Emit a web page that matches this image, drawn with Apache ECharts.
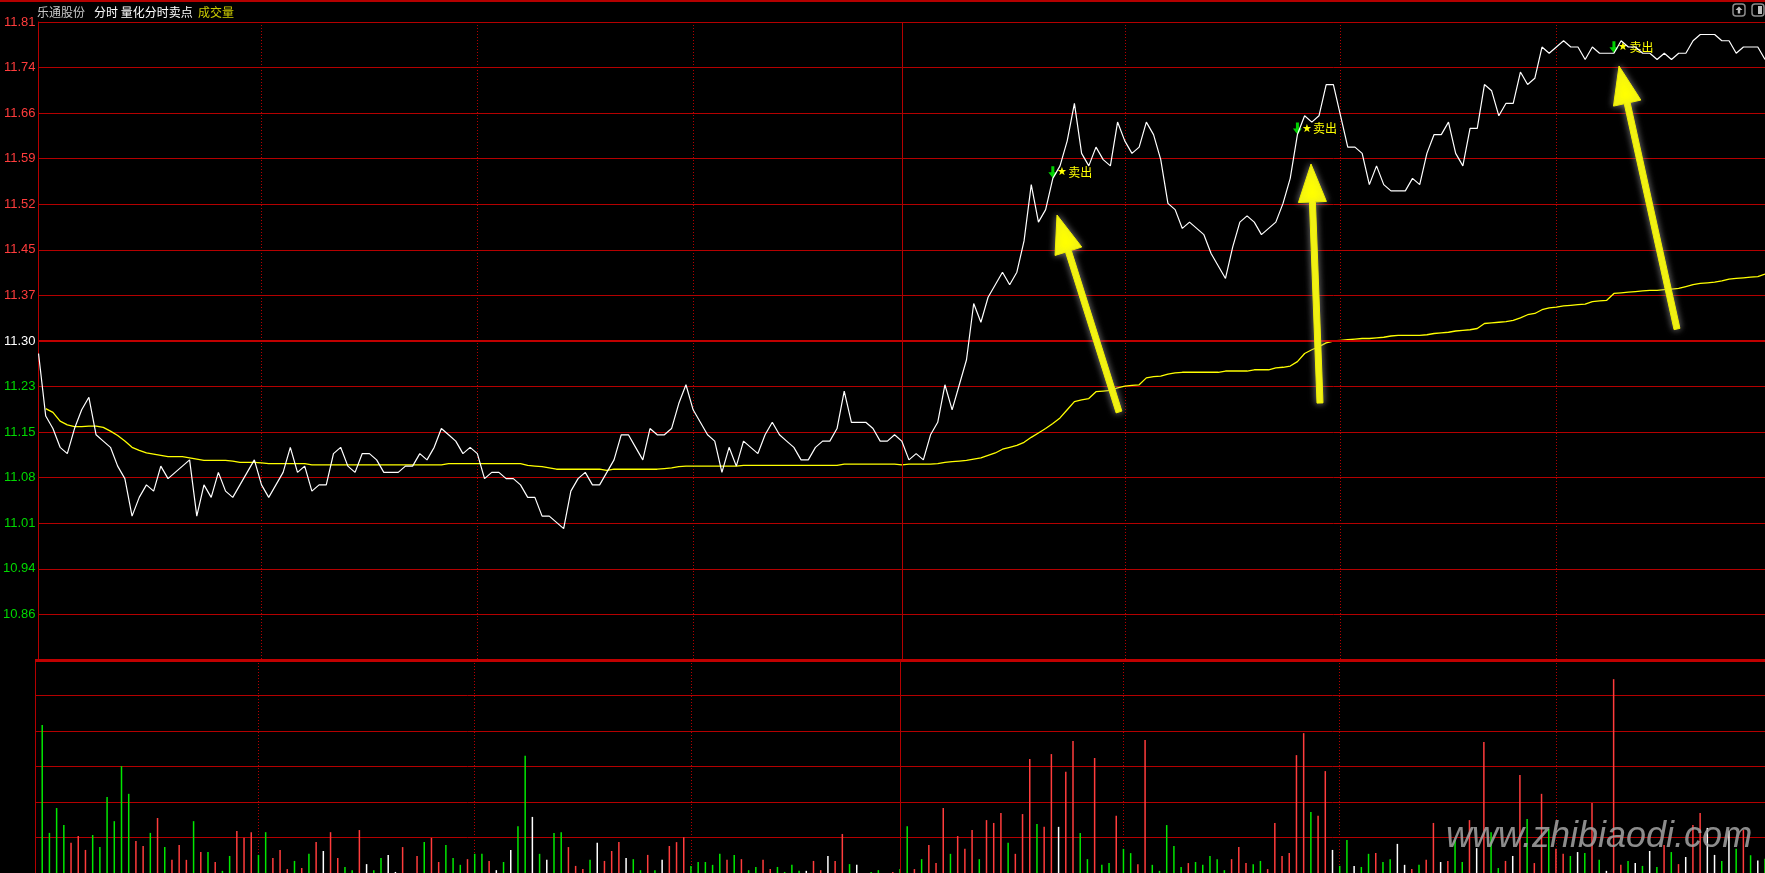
<!DOCTYPE html>
<html><head><meta charset="utf-8">
<script src="https://cdn.jsdelivr.net/npm/echarts@6/dist/echarts.min.js"></script>
<style>html,body{margin:0;padding:0;background:#000;}#c{width:1765px;height:873px;}</style>
</head><body><div id="c"></div>
<script>
// ---------- data ----------
const prevClose = 11.30;
const priceMin = 10.79, priceMax = 11.81;
const volMax = 6;
const price = [
11.28,11.18,11.16,11.13,11.12,11.16,11.19,11.21,11.15,11.14,
11.13,11.10,11.08,11.02,11.05,11.07,11.06,11.10,11.08,11.09,
11.10,11.11,11.02,11.07,11.05,11.09,11.06,11.05,11.07,11.09,
11.11,11.07,11.05,11.07,11.09,11.13,11.09,11.10,11.06,11.07,
11.07,11.12,11.13,11.10,11.09,11.12,11.12,11.11,11.09,11.09,
11.09,11.10,11.10,11.12,11.11,11.13,11.16,11.15,11.14,11.12,
11.13,11.12,11.08,11.09,11.09,11.08,11.08,11.07,11.05,11.05,
11.02,11.02,11.01,11.00,11.06,11.08,11.09,11.07,11.07,11.09,
11.11,11.15,11.15,11.13,11.11,11.16,11.15,11.15,11.16,11.20,
11.23,11.19,11.17,11.15,11.14,11.09,11.13,11.10,11.14,11.13,
11.12,11.15,11.17,11.15,11.14,11.13,11.11,11.11,11.13,11.14,
11.14,11.16,11.22,11.17,11.17,11.17,11.16,11.14,11.14,11.15,
11.14,11.11,11.12,11.11,11.15,11.17,11.23,11.19,11.23,11.27,
11.36,11.33,11.37,11.39,11.41,11.39,11.41,11.46,11.55,11.49,
11.51,11.56,11.58,11.62,11.68,11.60,11.58,11.61,11.59,11.58,
11.65,11.62,11.60,11.61,11.65,11.63,11.59,11.52,11.51,11.48,
11.49,11.48,11.47,11.44,11.42,11.40,11.45,11.49,11.50,11.49,
11.47,11.48,11.49,11.52,11.56,11.63,11.66,11.65,11.66,11.71,
11.71,11.66,11.61,11.61,11.60,11.55,11.58,11.55,11.54,11.54,
11.54,11.56,11.55,11.60,11.63,11.63,11.65,11.60,11.58,11.64,
11.64,11.71,11.70,11.66,11.68,11.68,11.73,11.71,11.72,11.77,
11.76,11.77,11.78,11.77,11.77,11.75,11.77,11.76,11.76,11.76,
11.78,11.77,11.77,11.76,11.76,11.75,11.76,11.75,11.76,11.76,
11.78,11.79,11.79,11.79,11.78,11.78,11.76,11.77,11.77,11.77,
11.75];
const avgPrice = [
'-',11.192,11.186,11.172,11.166,11.163,11.163,11.164,11.164,11.162,
11.156,11.149,11.140,11.130,11.125,11.121,11.119,11.117,11.115,11.115,
11.115,11.113,11.111,11.109,11.109,11.109,11.109,11.108,11.106,11.106,
11.106,11.105,11.104,11.104,11.104,11.104,11.104,11.104,11.102,11.102,
11.102,11.102,11.102,11.102,11.102,11.102,11.102,11.102,11.102,11.102,
11.102,11.102,11.102,11.102,11.102,11.102,11.102,11.104,11.104,11.104,
11.104,11.104,11.104,11.104,11.104,11.104,11.104,11.104,11.101,11.100,
11.099,11.097,11.095,11.095,11.095,11.095,11.095,11.095,11.095,11.093,
11.095,11.095,11.095,11.095,11.095,11.095,11.095,11.096,11.097,11.099,
11.100,11.100,11.100,11.100,11.100,11.100,11.100,11.100,11.101,11.101,
11.101,11.101,11.101,11.101,11.101,11.101,11.101,11.101,11.101,11.101,
11.101,11.101,11.103,11.103,11.103,11.103,11.103,11.103,11.103,11.103,
11.102,11.103,11.103,11.103,11.103,11.104,11.106,11.107,11.108,11.109,
11.111,11.113,11.117,11.121,11.127,11.130,11.133,11.138,11.146,11.153,
11.160,11.168,11.177,11.190,11.203,11.206,11.208,11.219,11.220,11.221,
11.225,11.228,11.229,11.230,11.241,11.243,11.244,11.247,11.249,11.250,
11.250,11.250,11.250,11.250,11.250,11.252,11.252,11.252,11.252,11.254,
11.254,11.254,11.257,11.258,11.260,11.267,11.280,11.286,11.291,11.297,
11.300,11.301,11.302,11.303,11.304,11.304,11.305,11.306,11.308,11.309,
11.309,11.309,11.309,11.310,11.312,11.313,11.314,11.316,11.317,11.318,
11.320,11.328,11.329,11.330,11.331,11.333,11.337,11.342,11.344,11.350,
11.353,11.354,11.356,11.357,11.358,11.359,11.363,11.364,11.365,11.376,
11.377,11.378,11.379,11.380,11.381,11.381,11.382,11.383,11.384,11.387,
11.390,11.392,11.393,11.394,11.396,11.399,11.400,11.401,11.402,11.403,
11.407];
const volume = [
0,4.17,1.13,1.83,1.35,0.85,1.04,0.65,1.07,0.73,
2.14,1.46,3.01,2.23,0.90,0.76,1.13,1.55,0.73,0.37,
0.79,0.37,1.46,0.59,0.59,0.31,0.06,0.48,1.18,0.99,
1.15,0.51,1.15,0.42,0.65,0.11,0.34,0.14,0.54,0.87,
0.62,1.15,0.42,0.17,0.08,1.21,0.25,0.08,0.42,0.51,
0.03,0.73,0,0.48,0.87,0.99,0.31,0.79,0.42,0.23,
0.39,0.54,0.54,0.34,0.08,0.31,0.65,1.32,3.30,1.58,
0.54,0.37,1.13,1.15,0.73,0.20,0.11,0.37,0.85,0.34,
0.62,0.87,0.42,0.39,0.08,0.51,0.08,0.37,0.76,0.87,
1.01,0.20,0.31,0.31,0.23,0.54,0.37,0.51,0.39,0.08,
0.17,0.37,0.11,0.17,0.03,0.23,0.06,0.06,0.34,0.08,
0.48,0.34,1.10,0.25,0.23,0,0.03,0.08,0,0.03,
0.11,1.32,0.11,0.39,0.79,0.28,1.83,0.54,1.04,0.68,
1.21,0.39,1.49,1.41,1.69,0.85,0.54,1.66,3.21,1.38,
1.30,3.35,1.30,2.85,3.72,1.13,0.39,3.24,0.23,0.28,
1.61,0.68,0.56,0.25,3.75,0.23,0.06,1.35,0.76,0.17,
0.28,0.31,0.23,0.48,0.39,0.08,0.39,0.73,0.28,0.25,
0.34,0.11,1.41,0.48,0.56,3.32,3.94,1.72,1.61,2.87,
0.65,0.20,0.93,0.20,0.17,0.54,0.56,0.31,0.39,0.82,
0.23,0.11,0.23,0.37,1.41,0.31,0.34,0.93,0.31,1.49,
0.70,3.69,1.15,0.14,0.34,0.48,2.76,1.52,0.28,2.23,
1.24,0.68,0.54,0.48,0.59,0.56,1.97,0.37,0.06,5.46,
0.23,0.34,0.28,0.20,0.62,0.17,0.79,0.59,0.25,0.45,
1.35,1.69,1.27,0.51,0.34,1.18,0.68,1.21,0.50,0.35,
0.40];
// 1 = up (red), -1 = down (green), 0 = flat (white)
const volDir = [
0,-1,-1,-1,-1,1,1,1,-1,-1,
-1,-1,-1,-1,1,1,-1,1,-1,1,
1,1,-1,1,-1,1,-1,-1,1,1,
1,-1,-1,1,1,1,-1,1,-1,1,
0,1,1,-1,-1,1,0,-1,-1,0,
0,1,0,1,-1,1,1,-1,-1,-1,
1,-1,-1,1,0,-1,0,-1,-1,0,
-1,0,-1,-1,1,1,1,-1,0,1,
1,1,0,-1,-1,1,-1,0,1,1,
1,-1,-1,-1,-1,-1,1,-1,1,-1,
-1,1,1,-1,-1,-1,-1,0,1,1,
0,1,1,-1,0,0,-1,-1,0,1,
-1,-1,1,-1,1,1,1,-1,1,1,
1,-1,1,1,1,-1,1,1,1,-1,
1,1,0,1,1,-1,-1,1,-1,-1,
1,-1,-1,1,1,-1,-1,-1,-1,-1,
1,-1,-1,-1,-1,-1,1,1,1,-1,
-1,1,1,1,1,1,1,-1,1,1,
0,-1,-1,0,-1,-1,1,-1,-1,0,
0,1,-1,1,1,0,1,-1,-1,1,
0,1,-1,-1,1,0,1,-1,1,1,
-1,1,1,-1,0,-1,1,-1,0,1,
1,-1,0,-1,0,-1,1,-1,1,0,
1,1,0,0,-1,0,-1,1,-1,0,
-1];
const sellIdx = [141, 175, 219];
const dotIdx = [31, 61, 91, 151, 181, 211];
const midIdx = 120;
const titleParts = ['乐通股份', '分时 量化分时卖点', '成交量'];
const sellText = '卖出';
const watermark = 'www.zhibiaodi.com';

// time categories 09:30..11:30, 13:01..15:00
const times = [];
function hm(m){const h=Math.floor(m/60),mm=m%60;return (h<10?'0':'')+h+':'+(mm<10?'0':'')+mm;}
for (let m = 570; m <= 690; m++) times.push(hm(m));
for (let m = 781; m <= 900; m++) times.push(hm(m));

// ---------- style ----------
const RED_GRID = '#b40000';
const UP = '#ff3c3c', DOWN = '#00e800', FLAT = '#ffffff';

// yellow annotation arrows (tip, tail) in pixels
const annoArrows = [
  {tip:[1057,215], tail:[1119,412]},
  {tip:[1311,164], tail:[1320,403]},
  {tip:[1619,66], tail:[1677,329]}
];
function arrowPoly(a){
  const dx=a.tip[0]-a.tail[0], dy=a.tip[1]-a.tail[1];
  const L=Math.hypot(dx,dy), ux=dx/L, uy=dy/L, nx=-uy, ny=ux;
  const hl=38, hw=14, sw=3;
  const bx=a.tip[0]-ux*hl, by=a.tip[1]-uy*hl;
  return [
    [a.tail[0]+nx*sw,a.tail[1]+ny*sw],[bx+nx*sw,by+ny*sw],[bx+nx*hw,by+ny*hw],
    a.tip,[bx-nx*hw,by-ny*hw],[bx-nx*sw,by-ny*sw],[a.tail[0]-nx*sw,a.tail[1]-ny*sw]
  ];
}

const chart = echarts.init(document.getElementById('c'), null, {renderer:'canvas'});
const xCommon = (g) => ({
  type:'category', gridIndex:g, data:times, boundaryGap:false,
  axisLine:{show:false}, axisTick:{show:false}, axisLabel:{show:false},
  splitLine:{show:true, interval:(i)=>dotIdx.indexOf(i)>=0,
    lineStyle:{color:RED_GRID, type:[1,2], width:1}}
});
const graphics = [
  {type:'line', shape:{x1:0,y1:1,x2:1765,y2:1}, style:{stroke:RED_GRID, lineWidth:2}, z:10},
  {type:'text', style:{text:titleParts[0], x:37, y:12, fill:'#c8c8c8', font:'12px "Noto Sans CJK SC"', textVerticalAlign:'middle'}},
  {type:'text', style:{text:titleParts[1], x:94, y:12, fill:'#ffffff', font:'12px "Noto Sans CJK SC"', textVerticalAlign:'middle'}},
  {type:'text', style:{text:titleParts[2], x:198, y:12, fill:'#cccc00', font:'12px "Noto Sans CJK SC"', textVerticalAlign:'middle'}},
  {type:'rect', shape:{x:1733,y:4,width:12,height:12,r:3}, style:{fill:'none', stroke:'#8c8c8c', lineWidth:1.5}},
  {type:'polygon', shape:{points:[[1739,6.5],[1742.5,10],[1740.2,10],[1740.2,13.5],[1737.8,13.5],[1737.8,10],[1735.5,10]]}, style:{fill:'#bdbdbd'}},
  {type:'rect', shape:{x:1752,y:4,width:12,height:12,r:3}, style:{fill:'none', stroke:'#8c8c8c', lineWidth:1.5}},
  {type:'rect', shape:{x:1758,y:6,width:4,height:8}, style:{fill:'#bdbdbd'}},
  {type:'text', z:50, style:{text:watermark, x:1446, y:837, font:'italic 36px "Liberation Sans"', fill:'rgba(165,165,165,0.85)', textVerticalAlign:'middle', shadowBlur:3, shadowColor:'rgba(0,0,0,0.9)', shadowOffsetX:2, shadowOffsetY:2}}
];
annoArrows.forEach(a => graphics.push({type:'polygon', z:40, shape:{points:arrowPoly(a)},
  style:{fill:'#ffff00', stroke:'#f0f000', lineWidth:1, lineJoin:'round', shadowBlur:7, shadowColor:'rgba(150,150,150,0.85)'}}));

chart.setOption({
  backgroundColor:'#000',
  animation:false,
  grid:[
    {left:35, top:22, width:1732, height:638},
    {left:35, top:660, width:1732, height:213}
  ],
  xAxis:[xCommon(0), xCommon(1)],
  yAxis:[
    {type:'value', gridIndex:0, min:priceMin, max:priceMax, interval:(priceMax-priceMin)/14,
     axisLine:{show:true, lineStyle:{color:RED_GRID, width:1}}, axisTick:{show:false},
     axisLabel:{showMinLabel:false, margin:3, fontSize:13, fontFamily:'Liberation Sans',
       formatter:(v)=>Number(v).toFixed(2),
       color:(v)=>{const n=parseFloat(v); return Math.abs(n-prevClose)<0.005?'#ffffff':(n>prevClose?'#ff3c3c':'#00d800');}},
     splitLine:{show:true, lineStyle:{color:RED_GRID, width:1}}},
    {type:'value', gridIndex:1, min:0, max:volMax, interval:1,
     axisLine:{show:true, lineStyle:{color:RED_GRID, width:1}}, axisTick:{show:false}, axisLabel:{show:false},
     splitLine:{show:true, lineStyle:{color:RED_GRID, width:1}}}
  ],
  series:[
    {type:'line', name:'price', xAxisIndex:0, yAxisIndex:0, data:price, symbol:'none', z:5,
     lineStyle:{color:'#ffffff', width:1.2}, silent:true,
     markLine:{silent:true, symbol:'none', label:{show:false}, animation:false,
       data:[
         {yAxis:prevClose, lineStyle:{color:'#c00000', width:2, type:'solid'}},
         {xAxis:midIdx, lineStyle:{color:RED_GRID, width:1, type:'solid'}}
       ]},
     markPoint:{silent:true, symbol:'path://M3,0 L6,0 L6,6 L9,6 L4.5,12 L0,6 L3,6 Z',
       symbolSize:[9,12], symbolOffset:[0,-6], itemStyle:{color:'#00d000'},
       label:{show:true, position:'right', distance:0, formatter:'{s|★}{t|'+sellText+'}',
         rich:{s:{color:'#ffff00', fontSize:11, padding:[0,1,0,0]}, t:{color:'#ffff00', fontSize:12, fontFamily:'Noto Sans CJK SC'}}},
       data:sellIdx.map(i=>({coord:[i, price[i]]}))}
    },
    {type:'line', name:'avg', xAxisIndex:0, yAxisIndex:0, data:avgPrice, symbol:'none', z:4,
     lineStyle:{color:'#ffff00', width:1.3}, silent:true},
    {type:'bar', name:'vol', xAxisIndex:1, yAxisIndex:1, barWidth:1.5, silent:true,
     data:volume.map((v,i)=>({value:v, itemStyle:{color: volDir[i]>0?UP:(volDir[i]<0?DOWN:FLAT)}})),
     markLine:{silent:true, symbol:'none', label:{show:false},
       data:[
         {yAxis:volMax, lineStyle:{color:'#c00000', width:3, type:'solid'}},
         {xAxis:midIdx, lineStyle:{color:RED_GRID, width:1, type:'solid'}}
       ]}
    }
  ],
  graphic:graphics
});
</script></body></html>
